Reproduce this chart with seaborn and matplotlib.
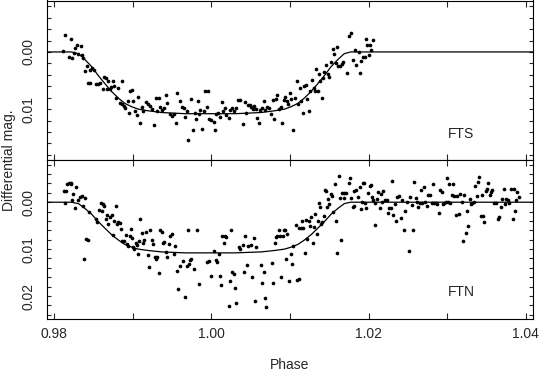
import numpy as np
import pandas as pd
import seaborn as sns
import matplotlib.pyplot as plt
from matplotlib.ticker import MultipleLocator, FormatStrFormatter

sns.set_style("ticks")
plt.rcParams['font.family'] = ['Liberation Sans', 'DejaVu Sans']

# ------ FTS light curve ------ #
fts_phase = [
    0.98136, 0.98213, 0.98115, 0.98187, 0.98234, 0.98247, 0.98272, 0.98294, 0.98336, 0.98306,
    0.98349, 0.98370, 0.98391, 0.98421, 0.98455, 0.98485, 0.98511, 0.98434, 0.98455, 0.98528,
    0.98553, 0.98583, 0.98617, 0.98634, 0.98655, 0.98689, 0.98668, 0.98711, 0.98723, 0.98753,
    0.98766, 0.98783, 0.98817, 0.98868, 0.98834, 0.98860, 0.98894, 0.98902, 0.98936, 0.98953,
    0.98970, 0.98987, 0.99009, 0.99030, 0.99051, 0.99072, 0.99094, 0.99115, 0.99136, 0.99166,
    0.99200, 0.99221, 0.99251, 0.99268, 0.99294, 0.99328, 0.99306, 0.99349, 0.99370, 0.99404,
    0.99434, 0.99426, 0.99477, 0.99498, 0.99519, 0.99549, 0.99562, 0.99604, 0.99626, 0.99647,
    0.99668, 0.99689, 0.99702, 0.99745, 0.99762, 0.99787, 0.99804, 0.99826, 0.99838, 0.99860,
    0.99881, 0.99902, 0.99923, 0.99957, 0.99945, 0.99966, 1.00000, 1.00030, 1.00043,
    1.00060, 1.00090, 1.00111, 1.00132, 1.00145, 1.00175, 1.00188, 1.00218, 1.00239, 1.00261,
    1.00282, 1.00316, 1.00342, 1.00368, 1.00402, 1.00423, 1.00444, 1.00466, 1.00487, 1.00509,
    1.00530, 1.00547, 1.00568, 1.00581, 1.00603, 1.00624, 1.00645, 1.00667, 1.00688, 1.00709,
    1.00731, 1.00761, 1.00778, 1.00795, 1.00816, 1.00838, 1.00859, 1.00880, 1.00902, 1.00923,
    1.00936, 1.00957, 1.00974, 1.01000, 1.01017, 1.01043, 1.01060, 1.01085, 1.01103, 1.01128,
    1.01145, 1.01162, 1.01179, 1.01201, 1.01222, 1.01244, 1.01256, 1.01274, 1.01299, 1.01316,
    1.01333, 1.01350, 1.01372, 1.01385, 1.01402, 1.01419, 1.01436, 1.01462, 1.01479, 1.01500,
    1.01521, 1.01543, 1.01564, 1.01585, 1.01598, 1.01615, 1.01641, 1.01658, 1.01679, 1.01722,
    1.01756, 1.01778, 1.01803, 1.01821, 1.01842, 1.01872, 1.01885, 1.01906, 1.01927, 1.01949,
    1.01962, 1.01983, 1.02000, 1.02013, 1.02034, 1.02056,
]
fts_mag = [
    -0.0029, -0.0022, -0.0001, 0.0008, 0.0010, 0.0002, -0.0007, -0.0012, -0.0011, 0.0003,
    0.0006, 0.0010, 0.0034, 0.0025, 0.0032, 0.0028, 0.0031, 0.0055, 0.0055, 0.0056,
    0.0056, 0.0055, 0.0064, 0.0043, 0.0045, 0.0050, 0.0065, 0.0065, 0.0061, 0.0050,
    0.0059, 0.0081, 0.0063, 0.0050, 0.0089, 0.0091, 0.0094, 0.0098, 0.0085, 0.0107,
    0.0069, 0.0066, 0.0085, 0.0103, 0.0110, 0.0079, 0.0124, 0.0097, 0.0103, 0.0087,
    0.0091, 0.0094, 0.0100, 0.0128, 0.0081, 0.0081, 0.0103, 0.0096, 0.0102, 0.0098,
    0.0090, 0.0076, 0.0109, 0.0112, 0.0109, 0.0125, 0.0071, 0.0085, 0.0096, 0.0098,
    0.0114, 0.0103, 0.0154, 0.0082, 0.0136, 0.0106, 0.0118, 0.0085, 0.0109, 0.0102,
    0.0134, 0.0103, 0.0069, 0.0069, 0.0097, 0.0118, 0.0119, 0.0122, 0.0137,
    0.0108, 0.0106, 0.0114, 0.0088, 0.0103, 0.0098, 0.0110, 0.0115, 0.0102, 0.0098,
    0.0104, 0.0098, 0.0084, 0.0084, 0.0126, 0.0088, 0.0106, 0.0092, 0.0092, 0.0096,
    0.0100, 0.0094, 0.0100, 0.0116, 0.0125, 0.0102, 0.0098, 0.0086, 0.0102, 0.0096,
    0.0098, 0.0108, 0.0084, 0.0118, 0.0082, 0.0076, 0.0100, 0.0096, 0.0124, 0.0084,
    0.0078, 0.0085, 0.0091, 0.0072, 0.0082, 0.0137, 0.0081, 0.0051, 0.0091, 0.0063,
    0.0086, 0.0106, 0.0059, 0.0057, 0.0082, 0.0104, 0.0069, 0.0049, 0.0063, 0.0069,
    0.0029, 0.0069, 0.0039, 0.0050, 0.0081, 0.0045, 0.0035, 0.0022, 0.0039, 0.0043,
    0.0018, -0.0005, 0.0004, 0.0019, -0.0009, 0.0025, 0.0025, 0.0021, 0.0018, 0.0037,
    -0.0028, -0.0034, 0.0014, -0.0004, 0.0022, 0.0000, 0.0037, 0.0015, 0.0008, 0.0008,
    -0.0022, -0.0012, 0.0006, -0.0012, -0.0004, -0.0021,
]

# ------ FTN light curve ------ #
ftn_phase = [
    0.98128, 0.98157, 0.98170, 0.98187, 0.98209, 0.98221, 0.98145, 0.98243, 0.98230, 0.98264,
    0.98285, 0.98306, 0.98328, 0.98349, 0.98370, 0.98391, 0.98383, 0.98409, 0.98426, 0.98447,
    0.98528, 0.98549, 0.98570, 0.98596, 0.98613, 0.98626, 0.98638, 0.98655, 0.98672, 0.98689,
    0.98711, 0.98732, 0.98745, 0.98766, 0.98783, 0.98796, 0.98817, 0.98838, 0.98851, 0.98868,
    0.98894, 0.98911, 0.98928, 0.98945, 0.98962, 0.98979, 0.98996, 0.99009, 0.99021, 0.99038,
    0.99051, 0.99064, 0.99081, 0.99094, 0.99115, 0.99132, 0.99149, 0.99166, 0.99191, 0.99209,
    0.99221, 0.99243, 0.99264, 0.99277, 0.99294, 0.99311, 0.99336, 0.99349, 0.99370, 0.99383,
    0.99404, 0.99421, 0.99438, 0.99455, 0.99477, 0.99498, 0.99519, 0.99540, 0.99562, 0.99574,
    0.99596, 0.99634, 0.99668, 0.99689, 0.99711, 0.99702, 0.99732, 0.99745, 0.99774, 0.99817,
    0.99847, 0.99945,
    0.99970, 1.00000, 1.00030, 1.00055, 1.00077, 1.00098, 1.00106, 1.00128, 1.00140, 1.00157,
    1.00170, 1.00191, 1.00221, 1.00243, 1.00255, 1.00268, 1.00285, 1.00302, 1.00319, 1.00349,
    1.00362, 1.00396, 1.00413, 1.00426, 1.00447, 1.00468, 1.00502, 1.00523, 1.00540, 1.00557,
    1.00574, 1.00630, 1.00647, 1.00668, 1.00685, 1.00698, 1.00766, 1.00787, 1.00809, 1.00821,
    1.00838, 1.00855, 1.00872, 1.00889, 1.00906, 1.00923, 1.00936, 1.00949, 1.00966, 1.00991,
    1.01009, 1.01026, 1.01043, 1.01077, 1.01094, 1.01111, 1.01119, 1.01136, 1.01157, 1.01170,
    1.01187, 1.01204, 1.01221, 1.01238, 1.01255, 1.01272, 1.01289, 1.01306, 1.01323, 1.01340,
    1.01353, 1.01366, 1.01383, 1.01396, 1.01409, 1.01426, 1.01443, 1.01460, 1.01468, 1.01489,
    1.01502, 1.01519, 1.01532, 1.01553, 1.01570, 1.01587, 1.01604, 1.01617, 1.01630, 1.01647,
    1.01660, 1.01681, 1.01689, 1.01715, 1.01745, 1.01766, 1.01774, 1.01800, 1.01817, 1.01817,
    1.01843, 1.01860, 1.01885, 1.01902, 1.01919, 1.01936,
    1.01928, 1.01957, 1.01970, 1.01991, 1.02013, 1.02026, 1.02043, 1.02060, 1.02077, 1.02085,
    1.02102, 1.02119, 1.02140, 1.02153, 1.02170, 1.02187, 1.02204, 1.02230, 1.02247, 1.02264,
    1.02281, 1.02298, 1.02315, 1.02332, 1.02349, 1.02366, 1.02383, 1.02409, 1.02426, 1.02451,
    1.02468, 1.02494, 1.02511, 1.02528, 1.02545, 1.02566, 1.02579, 1.02596, 1.02613, 1.02630,
    1.02647, 1.02664, 1.02681, 1.02706, 1.02723, 1.02740, 1.02757, 1.02779, 1.02800, 1.02817,
    1.02834, 1.02851, 1.02868, 1.02894, 1.02911, 1.02928, 1.02945, 1.02962, 1.02979, 1.02996,
    1.03013, 1.03021, 1.03038, 1.03055, 1.03072, 1.03089, 1.03106, 1.03123, 1.03149, 1.03166,
    1.03183, 1.03200, 1.03217, 1.03234, 1.03251, 1.03268, 1.03285, 1.03302, 1.03319, 1.03336,
    1.03353, 1.03374, 1.03387, 1.03404, 1.03430, 1.03447, 1.03460, 1.03472, 1.03489, 1.03506,
    1.03523, 1.03540, 1.03557, 1.03574, 1.03591, 1.03617, 1.03643, 1.03660, 1.03685, 1.03702,
    1.03719, 1.03736, 1.03753, 1.03770, 1.03787, 1.03804, 1.03830, 1.03843, 1.03855, 1.03872,
    1.03889, 1.03906,
]
ftn_mag = [
    -0.0023, -0.0023, -0.0039, -0.0041, -0.0041, -0.0038, 0.0002, -0.0018, -0.0004, 0.0013,
    -0.0032, -0.0004, -0.0012, -0.0014, 0.0008, -0.0009, 0.0122, 0.0078, 0.0080, 0.0020,
    0.0036, 0.0043, 0.0016, 0.0002, 0.0018, 0.0004, 0.0008, 0.0036, 0.0027, 0.0046,
    0.0031, 0.0027, 0.0070, 0.0041, 0.0009, 0.0046, 0.0043, 0.0045, 0.0058, 0.0082,
    0.0083, 0.0070, 0.0089, 0.0093, 0.0072, 0.0058, 0.0077, 0.0096, 0.0100, 0.0086,
    0.0091, 0.0110, 0.0082, 0.0036, 0.0065, 0.0088, 0.0080, 0.0063, 0.0112, 0.0139,
    0.0060, 0.0080, 0.0089, 0.0116, 0.0122, 0.0117, 0.0150, 0.0060, 0.0063, 0.0086,
    0.0084, 0.0107, 0.0116, 0.0089, 0.0072, 0.0068, 0.0110, 0.0093, 0.0146, 0.0184,
    0.0137, 0.0125, 0.0203, 0.0136, 0.0132, 0.0059, 0.0123, 0.0122, 0.0143, 0.0059,
    0.0175, 0.0127,
    0.0125, 0.0157, 0.0105, 0.0123, 0.0127, 0.0111, 0.0157, 0.0177, 0.0073, 0.0086,
    0.0073, 0.0075, 0.0221, 0.0167, 0.0060, 0.0148, 0.0153, 0.0182, 0.0214, 0.0096,
    0.0100, 0.0091, 0.0148, 0.0073, 0.0134, 0.0093, 0.0091, 0.0159, 0.0077, 0.0210,
    0.0095, 0.0134, 0.0173, 0.0148, 0.0205, 0.0223, 0.0129, 0.0173, 0.0086, 0.0075,
    0.0073, 0.0060, 0.0073, 0.0159, 0.0071, 0.0060, 0.0059, 0.0122, 0.0068, 0.0167,
    0.0110, 0.0132, 0.0093, 0.0048, 0.0166, 0.0164, 0.0056, 0.0056, 0.0041, 0.0056,
    0.0109, 0.0038, 0.0079, 0.0039, 0.0051, 0.0032, 0.0086, 0.0053, 0.0025, 0.0068,
    0.0041, 0.0002, 0.0011, 0.0046, 0.0043, 0.0029, -0.0025, -0.0023, 0.0011, -0.0006,
    0.0004, -0.0018, -0.0013, 0.0020, -0.0039, 0.0039, 0.0109, -0.0055, -0.0010, 0.0080,
    -0.0019, -0.0010, -0.0019, -0.0019, -0.0042, -0.0051, -0.0010, 0.0011, 0.0008, -0.0023,
    -0.0025, -0.0012, -0.0032, 0.0015, -0.0001, -0.0041,
    -0.0041, 0.0001, 0.0013, -0.0019, -0.0035, -0.0037, -0.0011, -0.0004, 0.0002, 0.0048,
    -0.0006, -0.0021, 0.0013, -0.0018, -0.0001, -0.0023, -0.0005, -0.0004, 0.0022, 0.0013,
    0.0013, -0.0046, 0.0027, 0.0004, 0.0041, -0.0011, -0.0014, 0.0034, -0.0004, 0.0060,
    0.0018, -0.0001, 0.0105, -0.0012, 0.0006, 0.0060, -0.0044, -0.0009, -0.0001, 0.0011,
    0.0001, -0.0025, 0.0002, -0.0033, -0.0001, 0.0009, -0.0016, -0.0016, 0.0001, -0.0039,
    0.0001, 0.0002, 0.0004, 0.0022, -0.0025, -0.0021, 0.0004, 0.0002, -0.0001, -0.0051,
    -0.0001, -0.0039, 0.0002, -0.0016, -0.0039, -0.0014, 0.0027, -0.0014, 0.0025, -0.0018,
    -0.0001, 0.0082, -0.0016, 0.0065, 0.0018, 0.0050, -0.0006, 0.0004, 0.0001, -0.0001,
    -0.0035, -0.0014, -0.0044, -0.0053, 0.0029, -0.0016, 0.0029, 0.0043, -0.0023, -0.0028,
    -0.0042, -0.0016, -0.0021, -0.0026, 0.0002, 0.0002, 0.0036, 0.0032, 0.0011, -0.0006,
    -0.0028, 0.0004, -0.0006, -0.0004, 0.0001, -0.0028, 0.0036, -0.0028, 0.0018, -0.0004,
    -0.0021, -0.0011,
]

# ------ transit model ------ #
model_phase = [0.9791, 0.9822, 0.9831, 0.9839, 0.9848, 0.9856, 0.9865, 0.9873, 0.9882,
               0.9890, 0.9899, 0.9907, 0.9920, 0.9937, 0.9967, 1.0000, 1.0030, 1.0063,
               1.0080, 1.0093, 1.0101, 1.0110, 1.0118, 1.0127, 1.0135, 1.0144, 1.0152,
               1.0161, 1.0169, 1.0177, 1.0409]
model_mag = [0.0, 0.0, 0.0003, 0.0013, 0.0026, 0.0041, 0.0056, 0.0069, 0.0081,
             0.0090, 0.0096, 0.0100, 0.0103, 0.0106, 0.0108, 0.0108, 0.0108, 0.0106,
             0.0103, 0.0100, 0.0096, 0.0090, 0.0081, 0.0069, 0.0056, 0.0041, 0.0026,
             0.0013, 0.0003, 0.0, 0.0]

panels = [
    ("FTS", fts_phase, fts_mag, (0.0189, -0.0090), 0.0151),
    ("FTN", ftn_phase, ftn_mag, (0.0249, -0.0090), 0.0201),
]

fig = plt.figure(figsize=(5.43, 3.71), dpi=100)
left, right = 47 / 543, 533 / 543
ax_top = fig.add_axes([left, 1 - 160 / 371, right - left, 159.5 / 371])
ax_bot = fig.add_axes([left, 1 - 319 / 371, right - left, 159 / 371])

for ax, (name, ph, mg, ylim, label_y) in zip([ax_top, ax_bot], panels):
    df = pd.DataFrame({"phase": ph, "mag": mg})
    sns.scatterplot(data=df, x="phase", y="mag", ax=ax, color="black",
                    s=7, linewidth=0, edgecolor=None)
    sns.lineplot(x=model_phase, y=model_mag, ax=ax, sort=False, estimator=None,
                 color="black", linewidth=0.9)
    ax.set_xlim(0.9791, 1.0409)
    ax.set_ylim(*ylim)
    ax.xaxis.set_major_locator(MultipleLocator(0.02))
    ax.xaxis.set_minor_locator(MultipleLocator(0.01))
    ax.yaxis.set_major_locator(MultipleLocator(0.01))
    ax.yaxis.set_minor_locator(MultipleLocator(0.002))
    ax.xaxis.set_major_formatter(FormatStrFormatter("%.2f"))
    ax.yaxis.set_major_formatter(FormatStrFormatter("%.2f"))
    ax.tick_params(axis="x", which="both", direction="in", top=True, bottom=True,
                   length=4.6, width=0.8, labelsize=10, pad=6)
    ax.tick_params(axis="y", which="both", direction="in", left=True, right=True,
                   length=3.2, width=0.8, labelsize=10, pad=8)
    plt.setp(ax.get_yticklabels(), rotation=90, va="center")
    for sp in ax.spines.values():
        sp.set_linewidth(0.8)
        sp.set_color("black")
    ax.set_xlabel("")
    ax.set_ylabel("")
    ax.text(1.0301, label_y, name, fontsize=10, ha="left", va="baseline")

ax_top.tick_params(axis="x", labelbottom=False)

fig.text(0.016, 1 - 160 / 371, "Differential mag.", rotation=90,
         ha="center", va="center", fontsize=10)
fig.text((left + right) / 2, 1 - 369 / 371, "Phase", ha="center", va="baseline",
         fontsize=10)

plt.savefig("out.png", dpi=100)
